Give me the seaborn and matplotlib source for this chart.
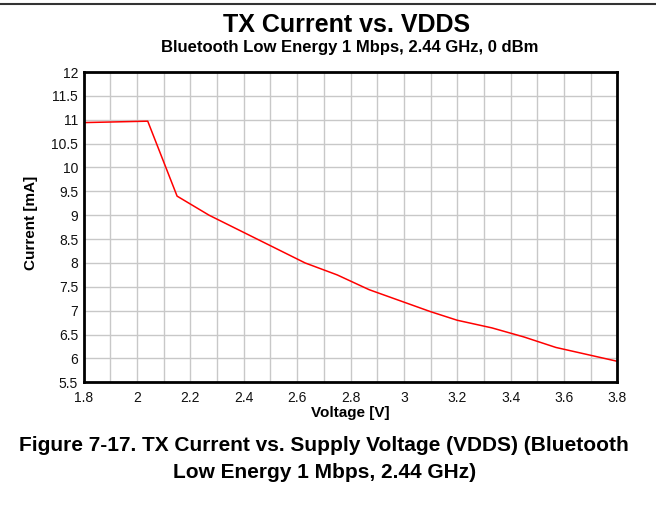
import matplotlib
matplotlib.use("Agg")
import matplotlib.pyplot as plt
from matplotlib.lines import Line2D
from matplotlib.ticker import MultipleLocator
import pandas as pd
import seaborn as sns

# TX current vs supply voltage
voltage = [1.80, 2.04, 2.15, 2.27, 2.63, 2.75, 2.87, 3.10, 3.20, 3.33, 3.45, 3.57, 3.80]
current = [10.94, 10.97, 9.40, 9.00, 8.00, 7.75, 7.44, 6.98, 6.80, 6.64, 6.45, 6.23, 5.94]

x_ticks = [1.8, 2, 2.2, 2.4, 2.6, 2.8, 3, 3.2, 3.4, 3.6, 3.8]
y_ticks = [5.5, 6, 6.5, 7, 7.5, 8, 8.5, 9, 9.5, 10, 10.5, 11, 11.5, 12]

df = pd.DataFrame({"Voltage": voltage, "Current": current})

sns.set_style("white")
plt.rcParams["font.family"] = ["Liberation Sans", "DejaVu Sans"]
plt.rcParams["text.color"] = "black"

fig = plt.figure(figsize=(6.56, 5.21), dpi=100)
ax = fig.add_axes([0.1276, 0.2662, 0.8134, 0.5956])

sns.lineplot(data=df, x="Voltage", y="Current", color="#ff0000", linewidth=1.1, ax=ax)

ax.set_xlim(1.8, 3.8)
ax.set_ylim(5.5, 12)
ax.set_xticks(x_ticks)
ax.set_xticklabels([f"{v:g}" for v in x_ticks])
ax.set_yticks(y_ticks)
ax.set_yticklabels([f"{v:g}" for v in y_ticks])
ax.xaxis.set_minor_locator(MultipleLocator(0.1))
ax.grid(which="both", color="#c8c8c8", linewidth=1.0)
ax.set_axisbelow(True)
ax.tick_params(which="both", length=0, labelsize=10, colors="#111111")
ax.tick_params(axis="x", pad=6)
ax.tick_params(axis="y", pad=4)
for s in ax.spines.values():
    s.set_color("black")
    s.set_linewidth(2)

ax.set_xlabel("Voltage [V]", fontsize=11, fontweight="bold", labelpad=1, color="black")
ax.set_ylabel("Current [mA]", fontsize=11, fontweight="bold", color="black")
ax.yaxis.set_label_coords(-0.086, 0.515)

fig.text(0.529, 1 - 32.5 / 521, "TX Current vs. VDDS", ha="center", va="baseline",
         fontsize=18, fontweight="bold")
fig.text(0.533, 1 - 52 / 521, "Bluetooth Low Energy 1 Mbps, 2.44 GHz, 0 dBm",
         ha="center", va="baseline", fontsize=12, fontweight="bold")
fig.text(0.494, 1 - 451 / 521, "Figure 7-17. TX Current vs. Supply Voltage (VDDS) (Bluetooth",
         ha="center", va="baseline", fontsize=15, fontweight="bold")
fig.text(0.494, 1 - 478 / 521, "Low Energy 1 Mbps, 2.44 GHz)",
         ha="center", va="baseline", fontsize=15, fontweight="bold")

fig.add_artist(Line2D([0, 1], [1 - 4 / 521, 1 - 4 / 521], color="#333333", linewidth=1.5))

fig.savefig("out.png", dpi=100)
